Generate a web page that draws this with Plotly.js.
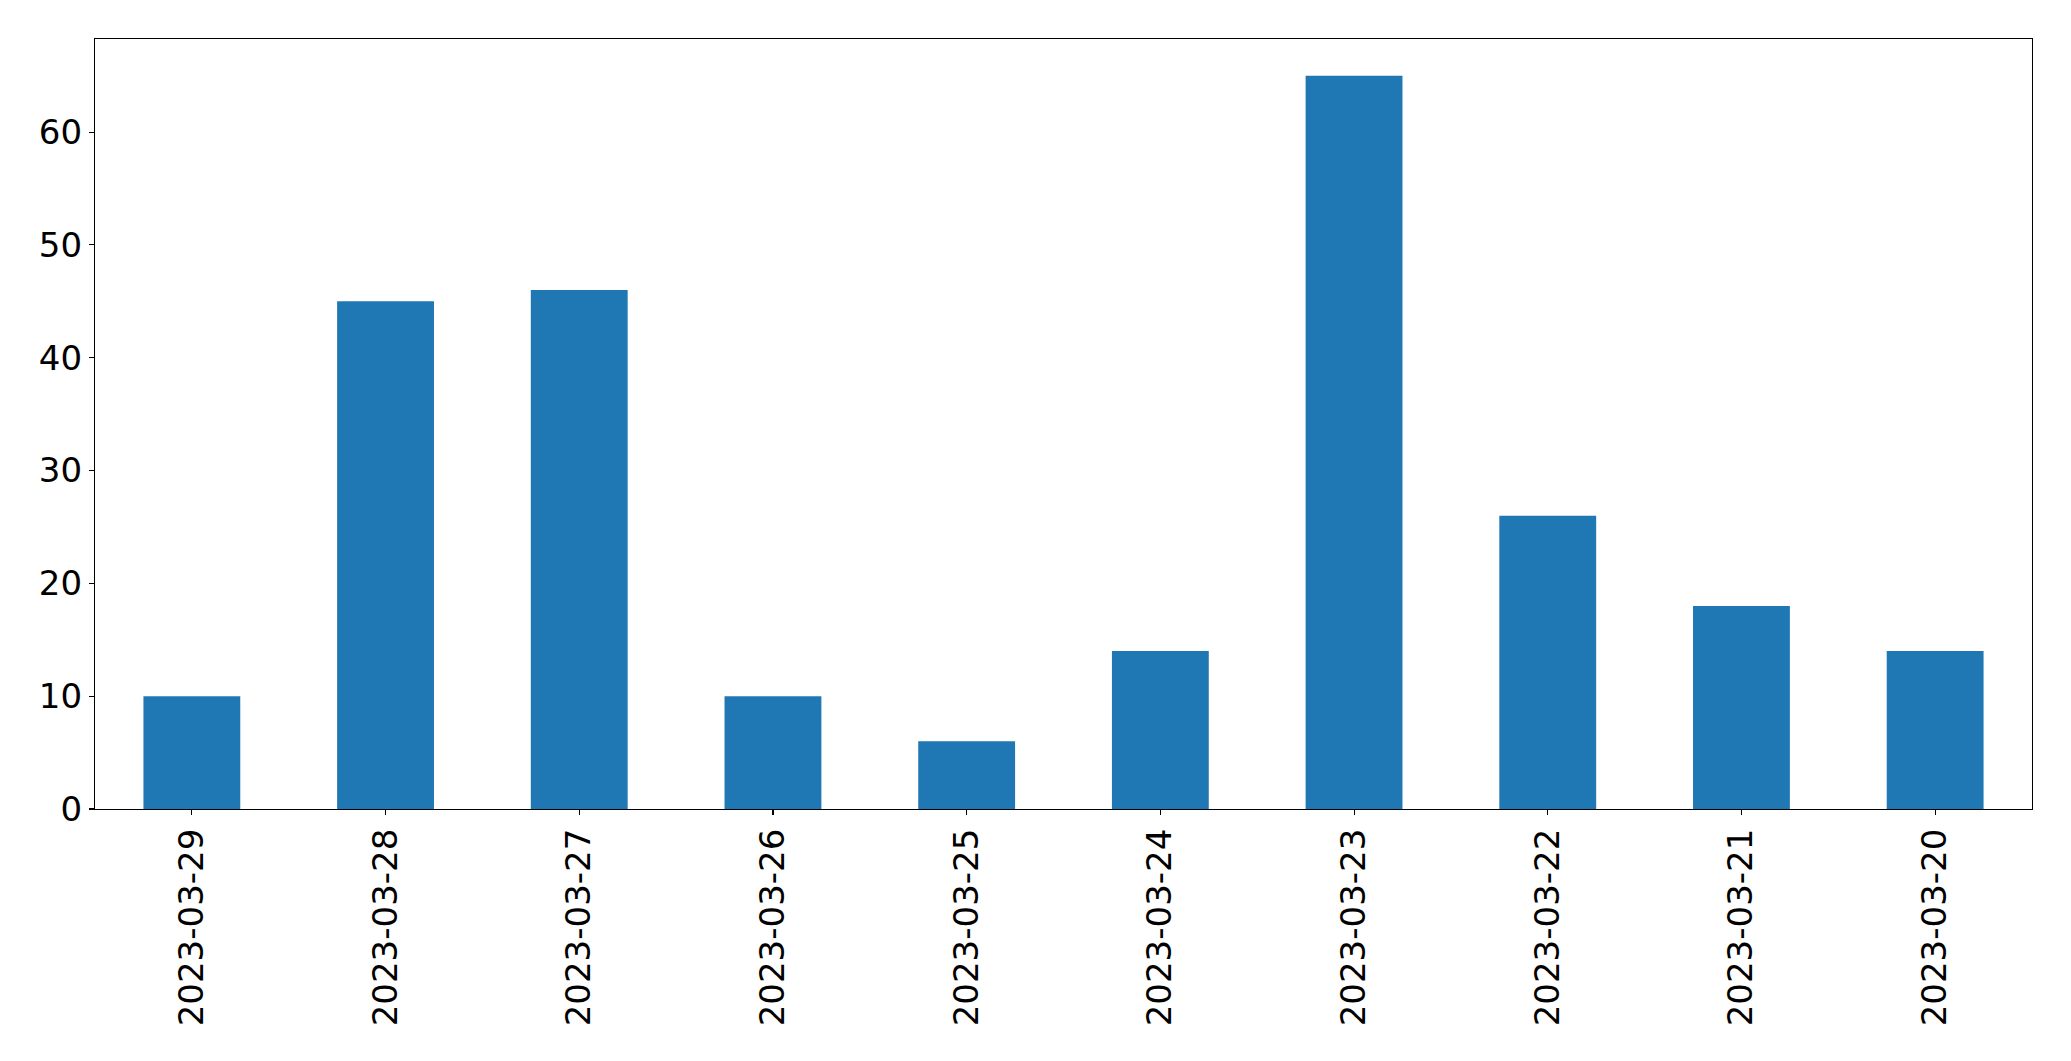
<!DOCTYPE html>
<html>
<head>
<meta charset="utf-8">
<script src="https://cdn.plot.ly/plotly-3.0.1.min.js"></script>
<style>html,body{margin:0;padding:0;background:#fff;}#chart{width:2071px;height:1061px;}</style>
</head>
<body>
<div id="chart"></div>
<script>
const dates = ["2023-03-29","2023-03-28","2023-03-27","2023-03-26","2023-03-25","2023-03-24","2023-03-23","2023-03-22","2023-03-21","2023-03-20"];
const counts = [10, 45, 46, 10, 6, 14, 65, 26, 18, 14];
const yTicks = [0, 10, 20, 30, 40, 50, 60];

const trace = {
  type: 'bar',
  x: dates,
  y: counts,
  width: 0.5,
  marker: {color: '#1f77b4', line: {width: 0}},
  hoverinfo: 'x+y'
};

const layout = {
  width: 2071,
  height: 1061,
  margin: {l: 95, r: 39, t: 39, b: 252, pad: 0},
  paper_bgcolor: '#ffffff',
  plot_bgcolor: '#ffffff',
  showlegend: false,
  font: {family: 'DejaVu Sans', size: 34, color: '#000000'},
  bargap: 0.5,
  xaxis: {
    type: 'category',
    range: [-0.5, 9.5],
    tickangle: -90,
    ticks: 'outside',
    ticklen: 5,
    tickwidth: 1.1,
    tickcolor: '#000',
    showline: true,
    linecolor: '#000',
    linewidth: 1.1,
    mirror: true,
    showgrid: false,
    zeroline: false,
    tickfont: {family: 'DejaVu Sans', size: 34, color: '#000'}
  },
  yaxis: {
    range: [0, 68.25],
    tickmode: 'array',
    tickvals: yTicks,
    ticktext: yTicks.map(String),
    ticks: 'outside',
    ticklen: 5,
    tickwidth: 1.1,
    tickcolor: '#000',
    showline: true,
    linecolor: '#000',
    linewidth: 1.1,
    mirror: true,
    showgrid: false,
    zeroline: false,
    tickfont: {family: 'DejaVu Sans', size: 34, color: '#000'}
  }
};

Plotly.newPlot('chart', [trace], layout, {displayModeBar: false, staticPlot: true});
</script>
</body>
</html>
